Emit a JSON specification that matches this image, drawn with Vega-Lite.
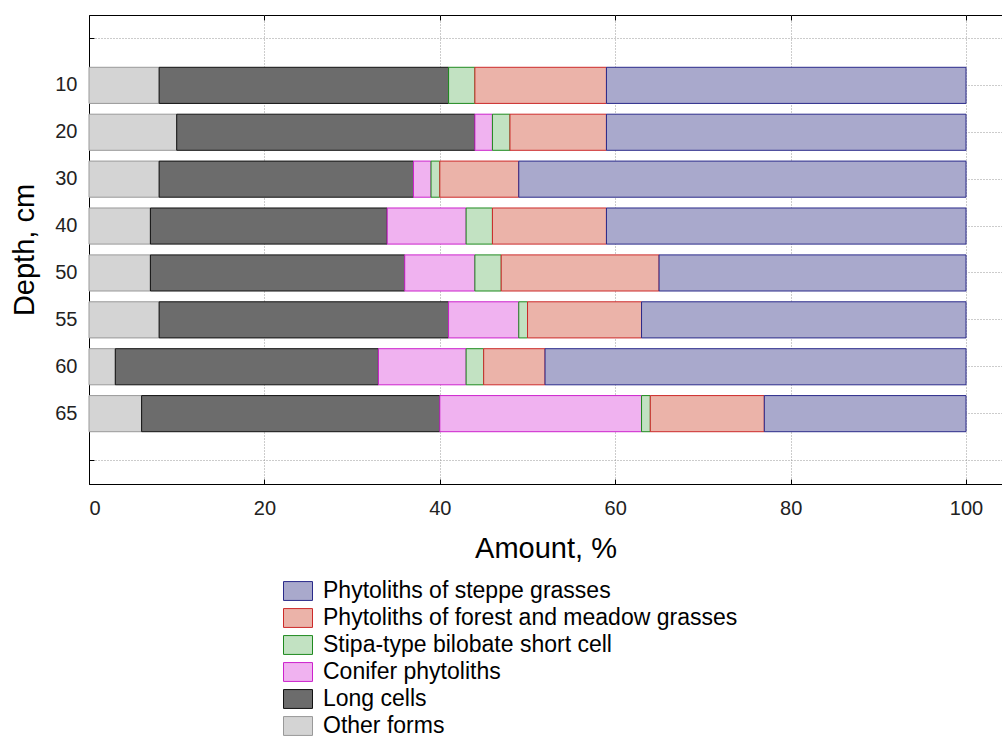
{
  "$schema": "https://vega.github.io/schema/vega-lite/v6.json",
  "autosize": {"type": "none"},
  "padding": {"left": 89, "top": 15, "right": 0, "bottom": 252},
  "width": 913,
  "height": 469,
  "config": {
    "font": "Liberation Sans",
    "view": {"stroke": "black", "strokeWidth": 1},
    "background": "white"
  },
  "data": {
    "values": [
      {"depth": "10", "type": "Other forms", "ord": 1, "value": 8},
      {"depth": "10", "type": "Long cells", "ord": 2, "value": 33},
      {"depth": "10", "type": "Stipa-type bilobate short cell", "ord": 4, "value": 3},
      {"depth": "10", "type": "Phytoliths of forest and meadow grasses", "ord": 5, "value": 15},
      {"depth": "10", "type": "Phytoliths of steppe grasses", "ord": 6, "value": 41},
      {"depth": "20", "type": "Other forms", "ord": 1, "value": 10},
      {"depth": "20", "type": "Long cells", "ord": 2, "value": 34},
      {"depth": "20", "type": "Conifer phytoliths", "ord": 3, "value": 2},
      {"depth": "20", "type": "Stipa-type bilobate short cell", "ord": 4, "value": 2},
      {"depth": "20", "type": "Phytoliths of forest and meadow grasses", "ord": 5, "value": 11},
      {"depth": "20", "type": "Phytoliths of steppe grasses", "ord": 6, "value": 41},
      {"depth": "30", "type": "Other forms", "ord": 1, "value": 8},
      {"depth": "30", "type": "Long cells", "ord": 2, "value": 29},
      {"depth": "30", "type": "Conifer phytoliths", "ord": 3, "value": 2},
      {"depth": "30", "type": "Stipa-type bilobate short cell", "ord": 4, "value": 1},
      {"depth": "30", "type": "Phytoliths of forest and meadow grasses", "ord": 5, "value": 9},
      {"depth": "30", "type": "Phytoliths of steppe grasses", "ord": 6, "value": 51},
      {"depth": "40", "type": "Other forms", "ord": 1, "value": 7},
      {"depth": "40", "type": "Long cells", "ord": 2, "value": 27},
      {"depth": "40", "type": "Conifer phytoliths", "ord": 3, "value": 9},
      {"depth": "40", "type": "Stipa-type bilobate short cell", "ord": 4, "value": 3},
      {"depth": "40", "type": "Phytoliths of forest and meadow grasses", "ord": 5, "value": 13},
      {"depth": "40", "type": "Phytoliths of steppe grasses", "ord": 6, "value": 41},
      {"depth": "50", "type": "Other forms", "ord": 1, "value": 7},
      {"depth": "50", "type": "Long cells", "ord": 2, "value": 29},
      {"depth": "50", "type": "Conifer phytoliths", "ord": 3, "value": 8},
      {"depth": "50", "type": "Stipa-type bilobate short cell", "ord": 4, "value": 3},
      {"depth": "50", "type": "Phytoliths of forest and meadow grasses", "ord": 5, "value": 18},
      {"depth": "50", "type": "Phytoliths of steppe grasses", "ord": 6, "value": 35},
      {"depth": "55", "type": "Other forms", "ord": 1, "value": 8},
      {"depth": "55", "type": "Long cells", "ord": 2, "value": 33},
      {"depth": "55", "type": "Conifer phytoliths", "ord": 3, "value": 8},
      {"depth": "55", "type": "Stipa-type bilobate short cell", "ord": 4, "value": 1},
      {"depth": "55", "type": "Phytoliths of forest and meadow grasses", "ord": 5, "value": 13},
      {"depth": "55", "type": "Phytoliths of steppe grasses", "ord": 6, "value": 37},
      {"depth": "60", "type": "Other forms", "ord": 1, "value": 3},
      {"depth": "60", "type": "Long cells", "ord": 2, "value": 30},
      {"depth": "60", "type": "Conifer phytoliths", "ord": 3, "value": 10},
      {"depth": "60", "type": "Stipa-type bilobate short cell", "ord": 4, "value": 2},
      {"depth": "60", "type": "Phytoliths of forest and meadow grasses", "ord": 5, "value": 7},
      {"depth": "60", "type": "Phytoliths of steppe grasses", "ord": 6, "value": 48},
      {"depth": "65", "type": "Other forms", "ord": 1, "value": 6},
      {"depth": "65", "type": "Long cells", "ord": 2, "value": 34},
      {"depth": "65", "type": "Conifer phytoliths", "ord": 3, "value": 23},
      {"depth": "65", "type": "Stipa-type bilobate short cell", "ord": 4, "value": 1},
      {"depth": "65", "type": "Phytoliths of forest and meadow grasses", "ord": 5, "value": 13},
      {"depth": "65", "type": "Phytoliths of steppe grasses", "ord": 6, "value": 23}
    ]
  },
  "resolve": {"axis": {"x": "independent"}},
  "layer": [
    {
      "mark": {"type": "bar", "strokeWidth": 1},
      "encoding": {
        "y": {
          "field": "depth",
          "type": "ordinal",
          "scale": {
            "domain": ["top", "10", "20", "30", "40", "50", "55", "60", "65", "bottom"],
            "paddingInner": 0.23,
            "paddingOuter": 0.115
          },
          "axis": {
            "title": "Depth, cm",
            "titleFontSize": 29,
            "titleFontWeight": "normal",
            "titleColor": "black",
            "titlePadding": 15,
            "labelFontSize": 20,
            "labelColor": "#222",
            "labelPadding": 17,
            "labelExpr": "datum.value == 'top' || datum.value == 'bottom' ? '' : datum.value",
            "bandPosition": 0.5,
            "grid": true,
            "gridColor": "#999",
            "gridDash": [1, 2],
            "gridWidth": 1,
            "domainColor": "black",
            "tickColor": "black",
            "tickSize": -5
          }
        },
        "x": {
          "field": "value",
          "type": "quantitative",
          "stack": "zero",
          "scale": {"domain": [0, 104.1], "nice": false, "zero": true},
          "axis": {
            "orient": "bottom",
            "title": "Amount, %",
            "titleFontSize": 29,
            "titleFontWeight": "normal",
            "titleColor": "black",
            "titlePadding": 16,
            "values": [0, 20, 40, 60, 80, 100],
            "labelFontSize": 20,
            "labelColor": "#222",
            "labelPadding": 19,
            "grid": true,
            "gridColor": "#999",
            "gridDash": [1, 2],
            "gridWidth": 1,
            "domainColor": "black",
            "tickColor": "black",
            "tickSize": -5
          }
        },
        "order": {"field": "ord", "type": "quantitative"},
        "fill": {
          "field": "type",
          "type": "nominal",
          "scale": {
            "domain": ["Phytoliths of steppe grasses", "Phytoliths of forest and meadow grasses", "Stipa-type bilobate short cell", "Conifer phytoliths", "Long cells", "Other forms"],
            "range": ["#a9a9cc", "#ebb3a9", "#c2e2c2", "#f0b2f0", "#6c6c6c", "#d4d4d4"]
          },
          "legend": {
            "title": null,
            "orient": "none",
            "legendX": 194,
            "legendY": 561,
            "direction": "vertical",
            "symbolType": "M-1,-0.65H1V0.65H-1Z",
            "symbolSize": 841,
            "symbolStrokeWidth": 1,
            "labelFontSize": 23,
            "labelColor": "black",
            "labelLimit": 700,
            "labelOffset": 10,
            "rowPadding": 0,
            "symbolOpacity": 1
          }
        },
        "stroke": {
          "field": "type",
          "type": "nominal",
          "scale": {
            "domain": ["Phytoliths of steppe grasses", "Phytoliths of forest and meadow grasses", "Stipa-type bilobate short cell", "Conifer phytoliths", "Long cells", "Other forms"],
            "range": ["#2a2a8a", "#cc2a2a", "#1f8a1f", "#cc22cc", "#111111", "#999999"]
          },
          "legend": {
            "title": null,
            "orient": "none",
            "legendX": 194,
            "legendY": 561,
            "direction": "vertical",
            "symbolType": "M-1,-0.65H1V0.65H-1Z",
            "symbolSize": 841,
            "symbolStrokeWidth": 1,
            "labelFontSize": 23,
            "labelColor": "black",
            "labelLimit": 700,
            "labelOffset": 10,
            "rowPadding": 0,
            "symbolOpacity": 1
          }
        }
      }
    },
    {
      "mark": {"type": "bar", "opacity": 0},
      "encoding": {
        "y": {"field": "depth", "type": "ordinal"},
        "x": {
          "field": "value",
          "type": "quantitative",
          "stack": "zero",
          "axis": {
            "orient": "top",
            "title": null,
            "values": [0, 20, 40, 60, 80, 100],
            "labels": false,
            "grid": false,
            "domain": false,
            "tickColor": "black",
            "tickSize": -5
          }
        }
      }
    }
  ]
}
